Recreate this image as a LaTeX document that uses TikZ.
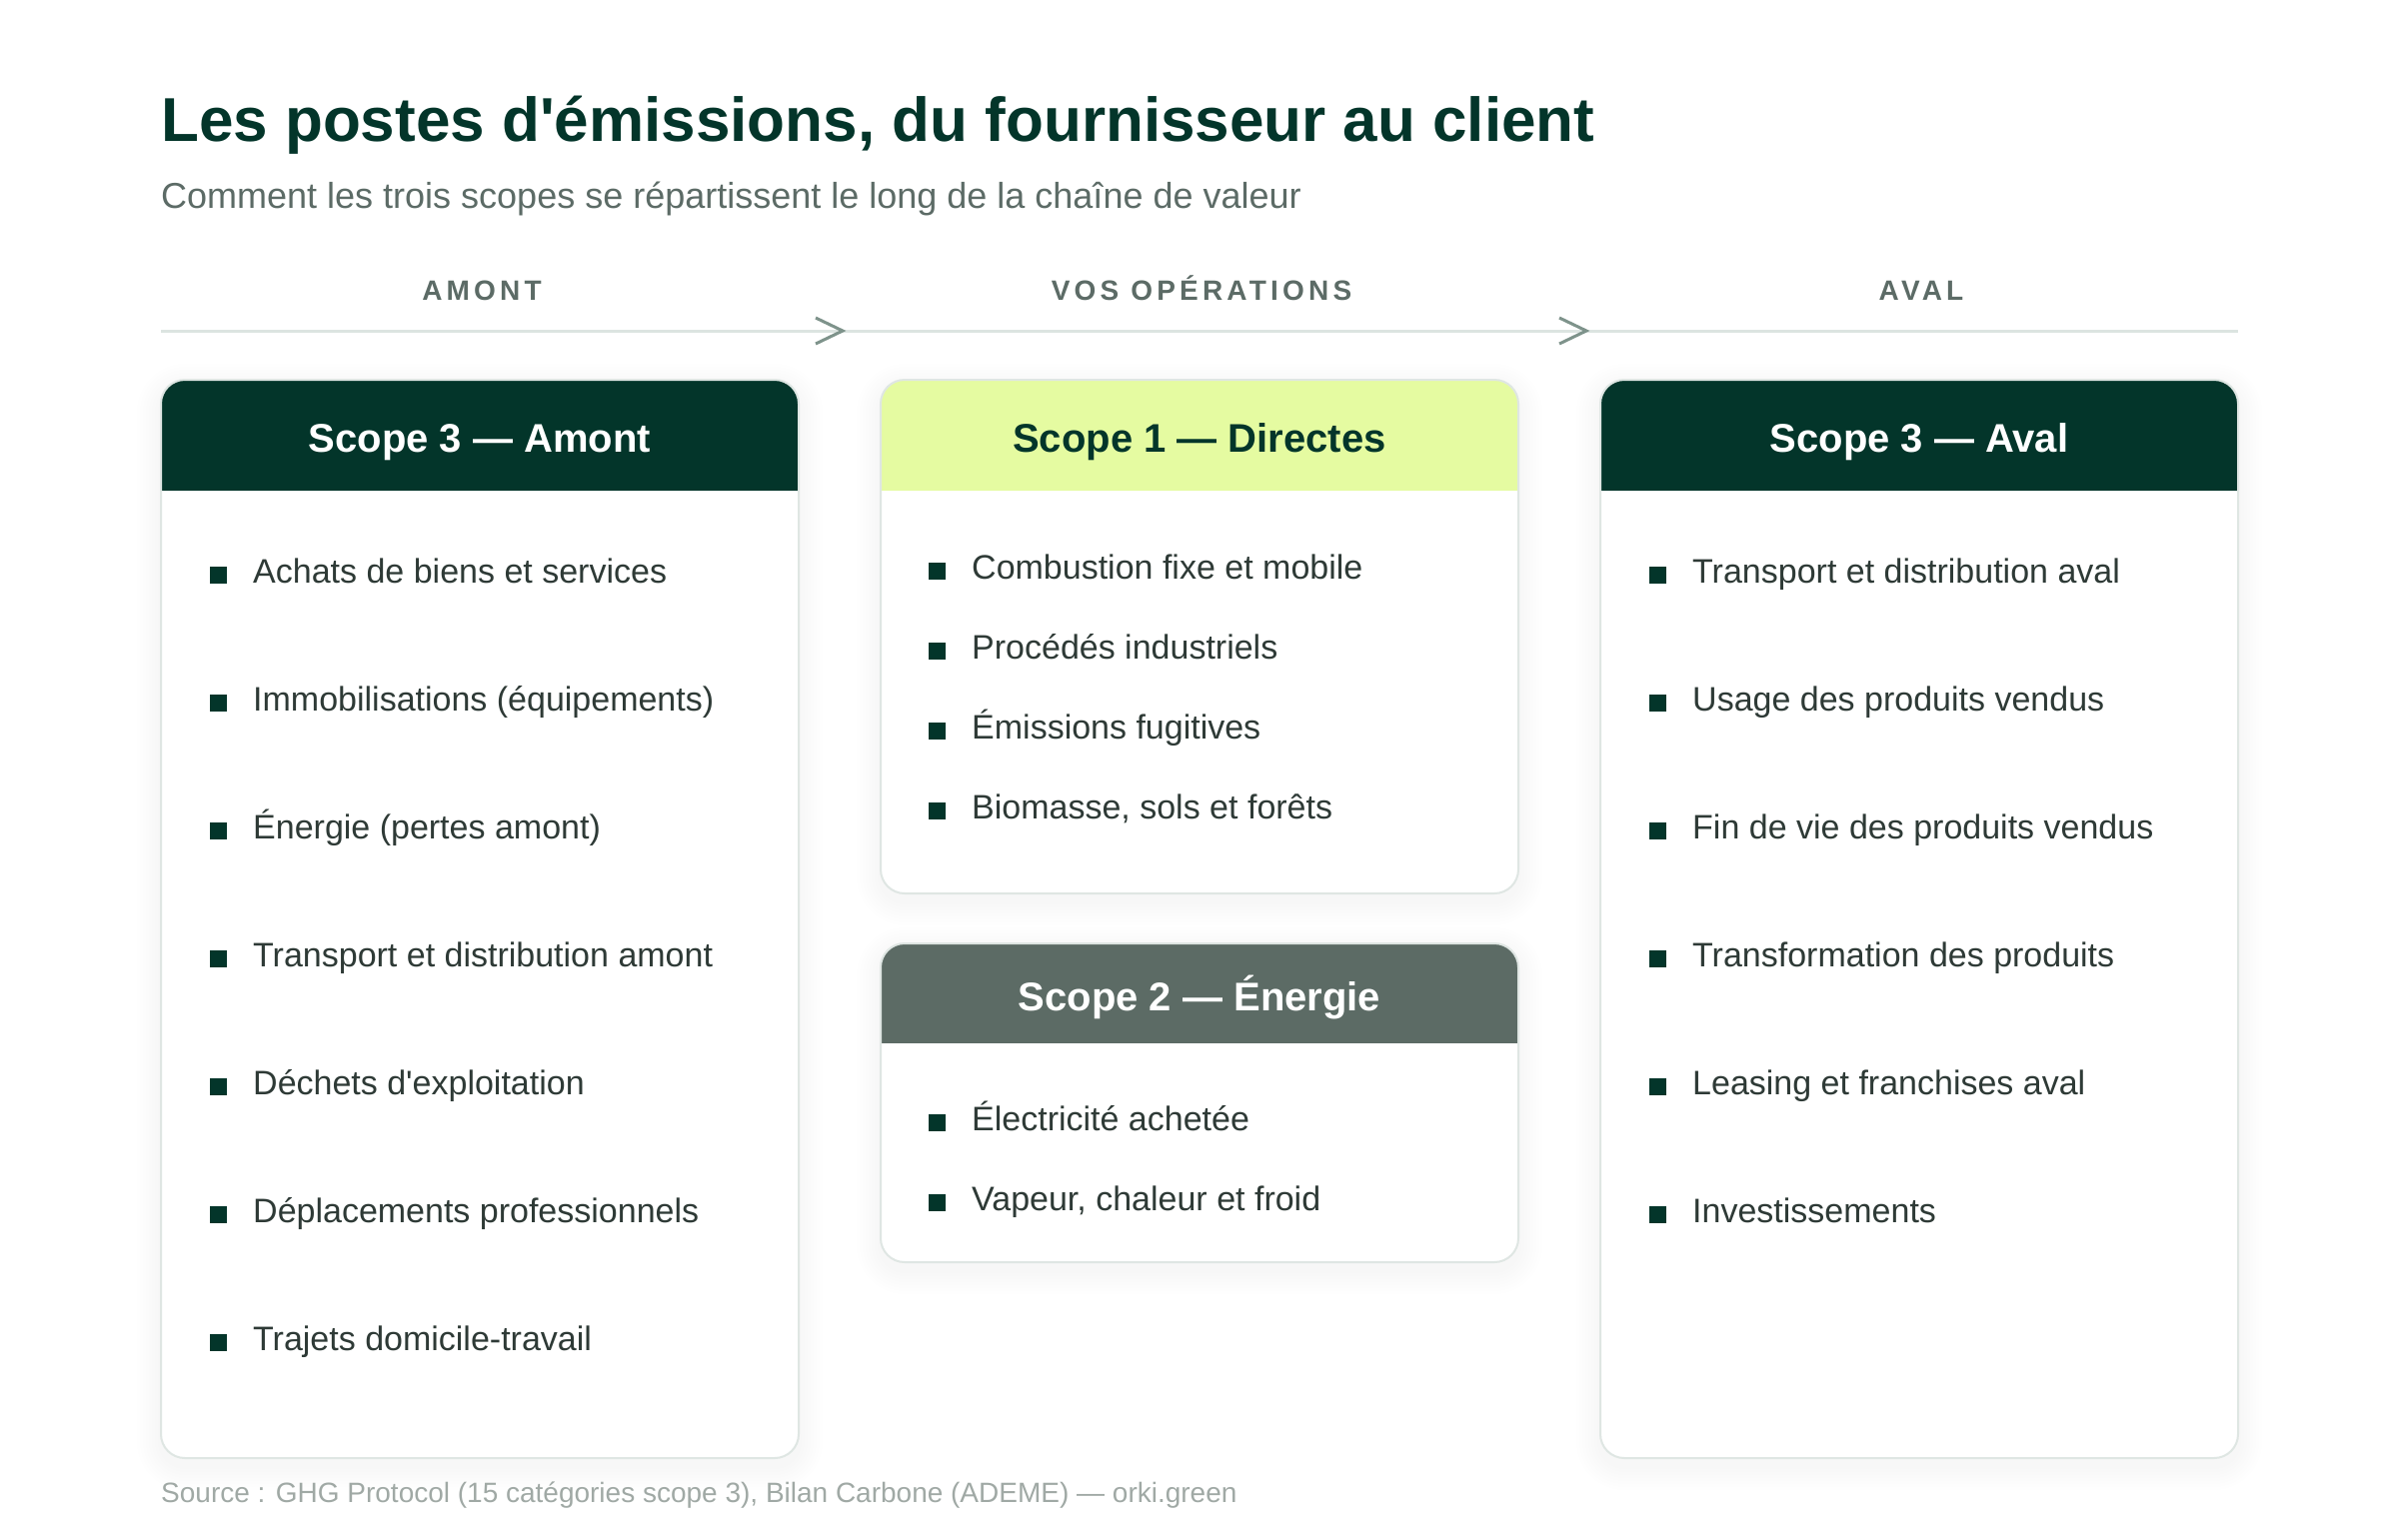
\documentclass[tikz,border=0pt]{standalone}
\usepackage{fontspec}
\setmainfont{Liberation Sans}[Ligatures=TeXOff]
\newfontfamily\trackfont{Liberation Sans}[LetterSpace=15,Ligatures=TeXOff]
\definecolor{dkgreen}{HTML}{03352A}
\definecolor{limehead}{HTML}{E5FBA1}
\definecolor{graygreen}{HTML}{5C6B65}
\definecolor{subcol}{HTML}{5C6B66}
\definecolor{linecol}{HTML}{DCE4E1}
\definecolor{chevcol}{HTML}{7E938B}
\definecolor{cardborder}{HTML}{DFE6E3}
\definecolor{srccol}{HTML}{A0A9A5}
\definecolor{itemcol}{HTML}{2E3A36}
\newcommand\emcard[8]{%
  \foreach \s in {3,6,...,24}{\fill[black,opacity=0.005,rounded corners=24+\s] (#1-\s,#2-\s+8) rectangle (#1+638+\s,#3+\s+8);}
  \fill[white,rounded corners=24] (#1,#2) rectangle (#1+638,#3);
  \begin{scope}
    \clip[rounded corners=24] (#1,#2) rectangle (#1+638,#3);
    \fill[#5] (#1,#2) rectangle (#1+638,#4);
  \end{scope}
  \draw[cardborder,line width=2,rounded corners=24] (#1,#2) rectangle (#1+638,#3);
  \node[headtext,text=#6] (#8) at (#1+319,{(#2+#4)/2+17}) {#7};
}
\begin{document}
\begin{tikzpicture}[x=1pt,y=-1pt,
  itemtext/.style={anchor=base west,inner sep=0pt,font=\fontsize{34}{40}\selectfont,text=itemcol},
  bul/.style={fill=dkgreen,minimum size=17pt,inner sep=0pt,anchor=south west},
  headtext/.style={anchor=base,inner sep=0pt,font=\bfseries\fontsize{40}{48}\selectfont},
  collabel/.style={anchor=base,inner sep=0pt,font=\trackfont\bfseries\fontsize{28}{34}\selectfont,text=subcol},
  chev/.style={chevcol,line width=3pt,line join=miter}]
\useasboundingbox[fill=white] (0,0) rectangle (2400,1540);

% title
\node[anchor=base west,inner sep=0pt,font=\bfseries\fontsize{62}{72}\selectfont,text=dkgreen] (title) at (161,141) {Les postes d'émissions, du fournisseur au client};
\node[anchor=base west,inner sep=0pt,font=\fontsize{36}{42}\selectfont,text=subcol] (subtitle) at (161,208) {Comment les trois scopes se répartissent le long de la chaîne de valeur};

% column labels
\node[collabel] (amont) at (482,300) {AMONT};
\node[collabel] (vosop) at (1202,300) {VOS OPÉRATIONS};
\node[collabel] (aval) at (1922,300) {AVAL};

% axis
\coordinate (axL) at (161,331);
\coordinate (axR) at (2239,331);
\draw[linecol,line width=3pt] (axL) -- (axR);
\coordinate (c1a) at (816,318); \coordinate (c1b) at (843,331); \coordinate (c1c) at (816,344);
\coordinate (c2a) at (1560,318); \coordinate (c2b) at (1587,331); \coordinate (c2c) at (1560,344);
\draw[chev] (c1a) -- (c1b) -- (c1c);
\draw[chev] (c2a) -- (c2b) -- (c2c);

% cards
\emcard{161}{380}{1459}{491}{dkgreen}{white}{Scope 3 — Amont}{hA}
\emcard{881}{380}{894}{491}{limehead}{dkgreen}{Scope 1 — Directes}{hB}
\emcard{881}{944}{1263}{1044}{graygreen}{white}{Scope 2 — Énergie}{hC}
\emcard{1601}{380}{1459}{491}{dkgreen}{white}{Scope 3 — Aval}{hD}

% items left
\foreach \t [count=\i] in {Achats de biens et services, Immobilisations (équipements), Énergie (pertes amont), Transport et distribution amont, Déchets d'exploitation, Déplacements professionnels, Trajets domicile-travail}{
  \node[bul] (lb\i) at (210,{584+128*(\i-1)}) {};
  \node[itemtext] (lt\i) at (253,{583+128*(\i-1)}) {\t};
}
% items scope 1
\foreach \t [count=\i] in {Combustion fixe et mobile, Procédés industriels, Émissions fugitives, {Biomasse, sols et forêts}}{
  \node[bul] (mb\i) at (929,{580+80*(\i-1)}) {};
  \node[itemtext] (mt\i) at (972,{579+80*(\i-1)}) {\t};
}
% items scope 2
\foreach \t [count=\i] in {Électricité achetée, {Vapeur, chaleur et froid}}{
  \node[bul] (sb\i) at (929,{1132+80*(\i-1)}) {};
  \node[itemtext] (st\i) at (972,{1131+80*(\i-1)}) {\t};
}
% items right
\foreach \t [count=\i] in {Transport et distribution aval, Usage des produits vendus, Fin de vie des produits vendus, Transformation des produits, Leasing et franchises aval, Investissements}{
  \node[bul] (rb\i) at (1650,{584+128*(\i-1)}) {};
  \node[itemtext] (rt\i) at (1693,{583+128*(\i-1)}) {\t};
}

% source
\node[anchor=base west,inner sep=0pt,font=\fontsize{28}{34}\selectfont,text=srccol] (source) at (161,1503) {Source : GHG Protocol (15 catégories scope 3), Bilan Carbone (ADEME) — orki.green};
\end{tikzpicture}
\end{document}
